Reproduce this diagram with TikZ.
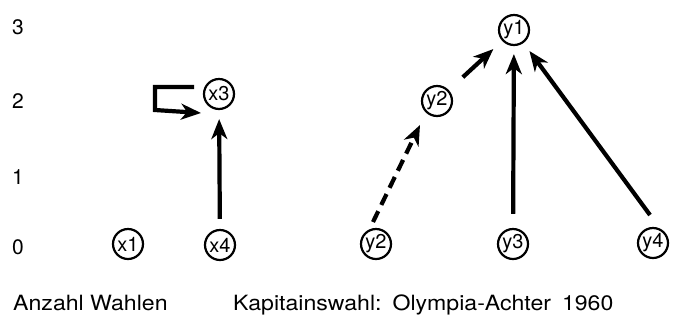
\documentclass[tikz,border=0pt]{standalone}
\usepackage{fontspec}
\setmainfont{TeX Gyre Heros}
\newfontfamily\capfont{TeX Gyre Heros}[FakeStretch=1.1]
\usetikzlibrary{arrows.meta,calc}
\begin{document}
\begin{tikzpicture}[x=1pt,y=-1pt,
  pers/.style={circle,draw,line width=2.2pt,minimum size=30pt,inner sep=0pt,font=\fontsize{20}{20}\selectfont},
  lab/.style={font=\fontsize{21}{21}\selectfont,inner sep=0pt},
  captext/.style={font=\capfont\fontsize{21}{21}\selectfont,inner sep=0pt},
  arr/.style={line width=4.2pt,-{Stealth[length=20pt,width=16pt,inset=6pt]}},
]
\useasboundingbox (0,0) rectangle (674,325);
% axis numbers
\node[lab] (a3) at (18,27) {3};
\node[lab] (a2) at (18,101) {2};
\node[lab] (a1) at (18,177) {1};
\node[lab] (a0) at (18,247) {0};
% persons
\node[pers] (x1) at (128,244) {x1};
\node[pers] (x4) at (220,245) {x4};
\node[pers] (x3) at (219,94) {x3};
\node[pers] (y2b) at (376,244) {y2};
\node[pers] (y2m) at (437,101) {y2};
\node[pers] (y3) at (513,244) {y3};
\node[pers] (y4) at (653,243) {y4};
\node[pers] (y1) at (514,30) {y1};
% captions
\node[captext,anchor=base west] (t1) at (13,310) {Anzahl Wahlen};
\node[captext,anchor=base west] (t2) at (233,310) {Kapitainswahl:\hspace{11pt}Olympia-Achter\hspace{11pt}1960};
% connectors
\draw[arr,shorten <=10pt,shorten >=9pt] (x4) -- (x3);
\draw[arr,line join=miter] ($(x3)+(-25,-7)$) -- ($(x3)+(-64,-7)$) -- ($(x3)+(-64,16)$) -- ($(x3)+(-18,19)$);
\draw[arr,dash pattern=on 12pt off 7pt] ($(y2b)+(-3,-22)$) -- ($(y2m)+(-17,24)$);
\draw[arr,shorten <=19pt,shorten >=12pt] (y2m) -- (y1);
\draw[arr,shorten <=14pt,shorten >=8pt] (y3) -- (y1);
\coordinate (y4s) at ($(y4)+(-3,-28)$);
\draw[arr,shorten >=10pt] (y4s) -- (y1);
\end{tikzpicture}
\end{document}
